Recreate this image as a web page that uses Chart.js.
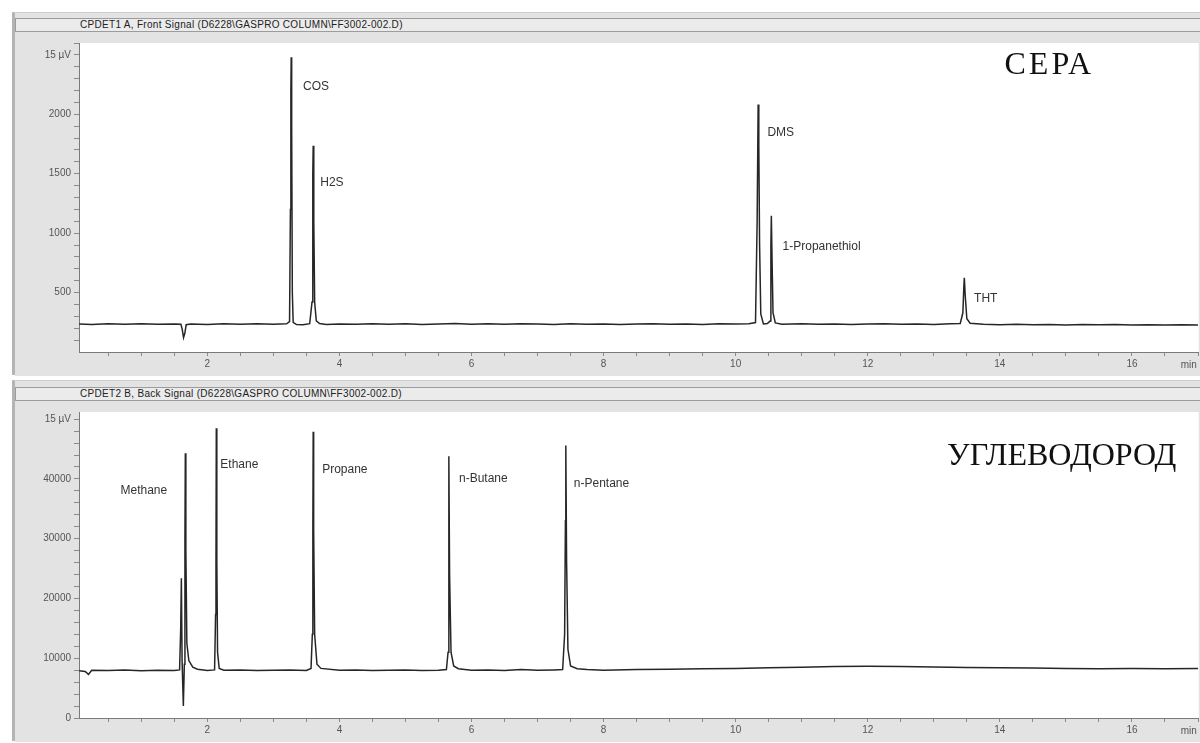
<!DOCTYPE html>
<html>
  <head>
    <meta charset="utf-8">
    <title>Chromatogram</title>
    <script src="https://cdn.jsdelivr.net/npm/chart.js"></script>
    <style>
      body { margin: 0; background: #fff; }
      #wrap { position: relative; width: 1200px; height: 743px; overflow: hidden; }
      .panel { position: absolute; left: 12px; width: 1200px; background: #e3e3e3;
               border-left: 3px solid #b4b4b4; border-top: 1px solid #cfcfcf; border-bottom: 2px solid #b8b8b8; }
      .title { position: absolute; left: 15px; width: 1200px; height: 14px; line-height: 14px;
               background: #ebebeb; border: 1px solid #9c9c9c; padding-left: 64px; box-sizing: border-box;
               font: 10px Arial, "Liberation Sans", sans-serif; letter-spacing: 0.3px; color: #222; }
      canvas { position: absolute; left: 15px; background: #e3e3e3; }
    </style>
  </head>
  <body>
    <div id="wrap">
      <div class="panel" style="top:12px;height:360px"></div>
      <div class="title" style="top:18px">CPDET1 A, Front Signal (D6228\GASPRO COLUMN\FF3002-002.D)</div>
      <canvas id="sulfurChart" width="1185" height="342" style="top:34px"></canvas>

      <div class="panel" style="top:380px;height:358px"></div>
      <div class="title" style="top:387px">CPDET2 B, Back Signal (D6228\GASPRO COLUMN\FF3002-002.D)</div>
      <canvas id="hydroChart" width="1185" height="339" style="top:403px"></canvas>
    </div>

    <script>
      // upper trace (sulfur detector), time in min
      var sulfurTime = [
        0.06, 0.25, 0.5, 0.75, 1.0, 1.25, 1.5, 1.6,
        1.62, 1.64, 1.66, 1.68, 1.75, 2.0, 2.25, 2.5,
        2.75, 3.0, 3.2, 3.245, 3.258, 3.265, 3.27, 3.277,
        3.287, 3.3, 3.35, 3.45, 3.55, 3.585, 3.597, 3.603,
        3.612, 3.625, 3.65, 3.7, 3.8, 4.0, 4.25, 4.5,
        4.75, 5.0, 5.25, 5.5, 5.75, 6.0, 6.25, 6.5,
        6.75, 7.0, 7.25, 7.5, 7.75, 8.0, 8.25, 8.5,
        8.75, 9.0, 9.25, 9.5, 9.75, 10.0, 10.2, 10.3,
        10.325, 10.34, 10.35, 10.362, 10.38, 10.42, 10.48, 10.52,
        10.533, 10.54, 10.55, 10.565, 10.6, 10.7, 11.0, 11.25,
        11.5, 11.75, 12.0, 12.25, 12.5, 12.75, 13.0, 13.25,
        13.4, 13.44, 13.455, 13.462, 13.475, 13.5, 13.55, 13.75,
        14.0, 14.25, 14.5, 14.75, 15.0, 15.25, 15.5, 15.75,
        16.0, 16.25, 16.5, 16.75, 17.0
      ];
      var sulfurSignal = [
        236, 232, 238, 233, 237, 234, 236, 233,
        190, 122, 160, 230, 236, 232, 237, 233,
        238, 234, 237, 255, 1200, 2200, 2480, 1900,
        500, 250, 231, 229, 238, 420, 1500, 1735,
        1100, 420, 262, 240, 232, 236, 233, 238,
        234, 237, 232, 236, 239, 234, 237, 233,
        238, 235, 232, 237, 234, 236, 231, 235,
        238, 233, 236, 232, 237, 235, 238, 248,
        1100, 2083, 1743, 900, 320, 236, 239, 260,
        900, 1146, 800, 330, 245, 234, 237, 233,
        236, 232, 235, 238, 233, 236, 232, 237,
        240, 330, 560, 624, 480, 280, 242, 234,
        230, 233, 229, 232, 228, 231, 229, 232,
        228, 230, 227, 230, 228
      ];
      var sulfurPeaks = ['COS', 'H2S', 'DMS', '1-Propanethiol', 'THT'];

      // lower trace (hydrocarbons)
      var hydroTime = [
        0.06, 0.15, 0.2, 0.25, 0.5, 0.75, 1.0, 1.25,
        1.5, 1.58, 1.597, 1.607, 1.618, 1.637, 1.652, 1.661,
        1.667, 1.675, 1.69, 1.72, 1.78, 1.85, 2.0, 2.11,
        2.125, 2.131, 2.136, 2.144, 2.155, 2.18, 2.25, 2.5,
        2.75, 3.0, 3.25, 3.5, 3.57, 3.59, 3.598, 3.603,
        3.61, 3.625, 3.66, 3.72, 4.0, 4.25, 4.5, 4.75,
        5.0, 5.25, 5.5, 5.62, 5.645, 5.655, 5.659, 5.668,
        5.69, 5.73, 5.8, 6.0, 6.25, 6.5, 6.75, 7.0,
        7.25, 7.38, 7.41, 7.422, 7.428, 7.44, 7.46, 7.5,
        7.6, 7.75, 8.0, 8.5, 9.0, 9.5, 10.0, 10.5,
        11.0, 11.5, 12.0, 12.5, 13.0, 13.5, 14.0, 14.5,
        15.0, 15.5, 16.0, 16.5, 17.0
      ];
      var hydroSignal = [
        7900, 7800, 7300, 8000, 7950, 8050, 7900, 8000,
        7950, 8050, 15000, 23400, 9500, 2000, 9000, 30000,
        44300, 28000, 12500, 9600, 8500, 8150, 7950, 8050,
        17300, 26300, 48500, 26000, 11000, 8300, 8000, 8050,
        7950, 8000, 8050, 7950, 8300, 14000, 31500, 47900,
        31500, 14000, 9000, 8300, 8000, 8050, 7950, 8000,
        8050, 7950, 8000, 8100, 11000, 30000, 43800, 24000,
        11000, 8700, 8250, 8000, 8050, 7950, 8100, 8000,
        8050, 8100, 14000, 33000, 45600, 26000, 11500, 8700,
        8250, 8100, 8000, 8100, 8150, 8250, 8300, 8400,
        8500, 8600, 8650, 8600, 8550, 8450, 8400, 8350,
        8300, 8250, 8300, 8250, 8300
      ];
      var hydroPeaks = ['Methane', 'Ethane', 'Propane', 'n-Butane', 'n-Pentane'];

      // axis ticks
      var xMajorTicks = [2, 4, 6, 8, 10, 12, 14, 16];
      var sulfurYTicks = [500, 1000, 1500, 2000, 2500];
      var sulfurYLabels = ['500', '1000', '1500', '2000', '15 \u00b5V'];
      var hydroYTicks = [0, 10000, 20000, 30000, 40000, 50000];
      var hydroYLabels = ['0', '10000', '20000', '30000', '40000', '15 \u00b5V'];

      var tickFont = { family: 'Arial, "Liberation Sans", sans-serif', size: 10 };

      // where the peak names sit, in (min, signal) units
      var sulfurLabelSpots = [[3.45, 2232], [3.71, 1428], [10.48, 1843], [10.71, 889], [13.61, 450]];
      var hydroLabelSpots = [[0.685, 38070], [2.197, 42320], [3.739, 41500], [5.81, 40030], [7.549, 39220]];

      function makeChart(id, time, signal, yMax, yStart, yStep, yTicks, yLabels, names, spots, bigText, bigSpot, bigSpacing) {
        var points = time.map(function (t, i) { return { x: t, y: signal[i] }; });

        var overlay = {
          id: 'overlay',
          beforeDraw: function (chart) {
            var a = chart.chartArea, c = chart.ctx;
            c.save();
            c.fillStyle = '#ffffff';
            c.fillRect(a.left, a.top, a.right - a.left, a.bottom - a.top);
            c.restore();
          },
          afterDraw: function (chart) {
            var c = chart.ctx, sx = chart.scales.x, sy = chart.scales.y;
            c.save();
            c.fillStyle = '#333';
            c.textBaseline = 'middle';
            c.textAlign = 'left';
            c.font = '12px Arial, "Liberation Sans", sans-serif';
            names.forEach(function (n, i) {
              c.fillText(n, sx.getPixelForValue(spots[i][0]), sy.getPixelForValue(spots[i][1]));
            });
            c.fillStyle = '#111';
            c.font = '32px "Liberation Serif", "Times New Roman", serif';
            c.letterSpacing = bigSpacing;
            c.fillText(bigText, sx.getPixelForValue(bigSpot[0]), sy.getPixelForValue(bigSpot[1]));
            c.letterSpacing = '0px';
            // unit at the end of the time axis
            c.fillStyle = '#555';
            c.textAlign = 'center';
            c.font = '10px Arial, "Liberation Sans", sans-serif';
            c.fillText('min', sx.getPixelForValue(16.86), chart.chartArea.bottom + 13);
            c.restore();
          }
        };

        return new Chart(document.getElementById(id), {
          type: 'line',
          data: {
            datasets: [{
              data: points,
              borderColor: '#262626',
              borderWidth: 1.5,
              pointRadius: 0,
              tension: 0,
              fill: false
            }]
          },
          options: {
            responsive: false,
            animation: false,
            layout: { padding: { top: id === 'sulfurChart' ? 4 : 2, right: 0, left: 0, bottom: 0 } },
            plugins: { legend: { display: false }, tooltip: { enabled: false } },
            scales: {
              x: {
                type: 'linear',
                min: 0.057,
                max: 17.01,
                afterBuildTicks: function (scale) {
                  var t = [];
                  for (var v = 0.5; v <= 17; v += 0.5) t.push({ value: v });
                  scale.ticks = t;
                },
                afterFit: function (scale) { scale.height = 24; },
                grid: { display: true, drawOnChartArea: false, tickLength: 4, color: '#8a8a8a' },
                border: { display: true, color: '#7a7a7a' },
                ticks: {
                  autoSkip: false,
                  maxRotation: 0,
                  padding: 2,
                  color: '#555',
                  font: tickFont,
                  callback: function (v) { return xMajorTicks.indexOf(v) >= 0 ? String(v) : ''; }
                }
              },
              y: {
                min: 0,
                max: yMax,
                afterBuildTicks: function (scale) {
                  var t = [];
                  for (var v = yStart; v <= yMax; v += yStep) t.push({ value: v });
                  scale.ticks = t;
                },
                afterFit: function (scale) { scale.width = 64; },
                grid: { display: true, drawOnChartArea: false, tickLength: 5, color: '#8a8a8a' },
                border: { display: true, color: '#7a7a7a' },
                ticks: {
                  autoSkip: false,
                  padding: 3,
                  color: '#555',
                  font: tickFont,
                  callback: function (v) {
                    var i = yTicks.indexOf(v);
                    return i >= 0 ? yLabels[i] : '';
                  }
                }
              }
            }
          },
          plugins: [overlay]
        });
      }

      makeChart('sulfurChart', sulfurTime, sulfurSignal, 2600, 100, 100,
        sulfurYTicks, sulfurYLabels, sulfurPeaks, sulfurLabelSpots, '\u0421\u0415\u0420\u0410', [14.07, 2406], '3px');
      makeChart('hydroChart', hydroTime, hydroSignal, 51200, 0, 2000,
        hydroYTicks, hydroYLabels, hydroPeaks, hydroLabelSpots,
        '\u0423\u0413\u041b\u0415\u0412\u041e\u0414\u041e\u0420\u041e\u0414', [13.2, 43790], '0px');
    </script>
  </body>
</html>
